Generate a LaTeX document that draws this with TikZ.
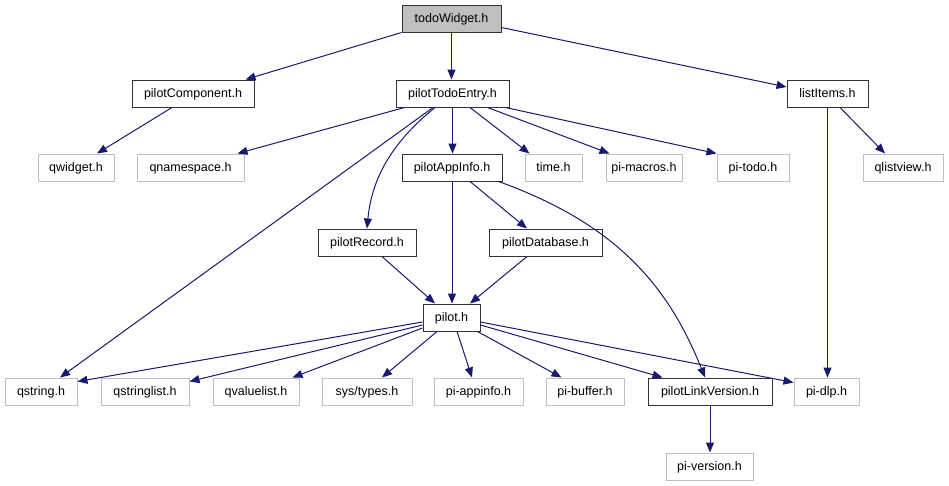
\documentclass[tikz,border=0pt]{standalone}
\usepackage{fontspec}
\setmainfont{Liberation Sans}
\usetikzlibrary{arrows.meta}
\definecolor{edgeblue}{HTML}{191970}
\definecolor{lightframe}{HTML}{BFBFBF}
\definecolor{rootfill}{HTML}{BFBFBF}
\definecolor{darkframe}{HTML}{333333}
\begin{document}
\begin{tikzpicture}[x=1pt,y=-1pt,
  filebox/.style={rectangle, draw=darkframe, line width=1pt, minimum height=27pt, inner sep=0pt, text height=9pt, text depth=1.5pt, font=\fontsize{12.5}{14}\selectfont, text=black},
  extbox/.style={filebox, draw=lightframe},
  rootbox/.style={filebox, fill=rootfill},
  dep/.style={draw=edgeblue, line width=1pt, -{Triangle[length=10pt,width=8pt]}, edgeblue}
]
\useasboundingbox[fill=white] (0,0) rectangle (949,485);

\node[rootbox, minimum width=99pt] (todo) at (451.5,18.5) {todoWidget.h};
\node[filebox, minimum width=122pt] (comp) at (193,93.5) {pilotComponent.h};
\node[filebox, minimum width=113pt] (entry) at (452.5,93.5) {pilotTodoEntry.h};
\node[filebox, minimum width=81pt] (list) at (827.5,93.5) {listItems.h};

\node[extbox, minimum width=76pt] (qwidget) at (76,167.5) {qwidget.h};
\node[extbox, minimum width=107pt] (qnamespace) at (190.5,167.5) {qnamespace.h};
\node[filebox, minimum width=100pt] (appinfo) at (452,167.5) {pilotAppInfo.h};
\node[extbox, minimum width=57pt] (time) at (553.5,167.5) {time.h};
\node[extbox, minimum width=76pt] (macros) at (644,167.5) {pi-macros.h};
\node[extbox, minimum width=72pt] (pitodo) at (753,167.5) {pi-todo.h};
\node[extbox, minimum width=80pt] (qlistview) at (903,167.5) {qlistview.h};

\node[filebox, minimum width=98pt] (record) at (367,242.5) {pilotRecord.h};
\node[filebox, minimum width=113pt] (database) at (545.5,242.5) {pilotDatabase.h};

\node[filebox, minimum width=57pt] (pilot) at (451.5,317.5) {pilot.h};

\node[extbox, minimum width=72pt] (qstring) at (41,391.5) {qstring.h};
\node[extbox, minimum width=88pt] (qstringlist) at (145,391.5) {qstringlist.h};
\node[extbox, minimum width=86pt] (qvaluelist) at (256,391.5) {qvaluelist.h};
\node[extbox, minimum width=90pt] (systypes) at (367,391.5) {sys/types.h};
\node[extbox, minimum width=89pt] (piappinfo) at (478.5,391.5) {pi-appinfo.h};
\node[extbox, minimum width=78pt] (pibuffer) at (585,391.5) {pi-buffer.h};
\node[filebox, minimum width=124pt] (linkver) at (710,391.5) {pilotLinkVersion.h};
\node[extbox, minimum width=65pt] (pidlp) at (826.5,391.5) {pi-dlp.h};

\node[extbox, minimum width=87pt] (piversion) at (709.5,466.5) {pi-version.h};

% edges
\draw[dep] (todo.south west) -- ([xshift=-9pt]comp.north east);
\draw[dep] (todo.south) -- (todo.south |- entry.north);
\draw[dep] ([yshift=-9pt]todo.east) -- ([yshift=6.5pt]list.west);

\draw[dep] ([xshift=-21pt]comp.south) -- ([xshift=21pt]qwidget.north);

\draw[dep] ([xshift=9pt]entry.south west) -- ([xshift=-7pt]qnamespace.north east);
\draw[dep] ([xshift=-19.5pt]entry.south) -- ([xshift=19pt]qstring.north);
\draw[dep] ([xshift=-17.5pt]entry.south) .. controls (395,140) and (372,175) .. (record.north);
\draw[dep] (entry.south) -- (entry.south |- appinfo.north);
\draw[dep] ([xshift=17.5pt]entry.south) -- ([xshift=5pt]time.north west);
\draw[dep] ([xshift=-22pt]entry.south east) -- ([xshift=4pt]macros.north west);
\draw[dep] ([xshift=-4pt]entry.south east) -- (pitodo.north west);

\draw[dep] ([xshift=12.5pt]list.south) -- ([xshift=-18pt]qlistview.north);
\draw[dep] (list.south) -- (list.south |- pidlp.north);

\draw[dep] (appinfo.south) -- (appinfo.south |- pilot.north);
\draw[dep] ([xshift=18pt]appinfo.south) -- ([xshift=-18.5pt]database.north);
\draw[dep] ([xshift=-4pt]appinfo.south east) .. controls (620,225) and (670,290) .. ([xshift=-5pt]linkver.north);

\draw[dep] ([xshift=15pt]record.south) -- ([xshift=-16.5pt]pilot.north);
\draw[dep] ([xshift=-18.5pt]database.south) -- ([xshift=18.5pt]pilot.north);

\draw[dep] ([yshift=-4.5pt]pilot.west) -- ([yshift=-4pt]qstring.north east);
\draw[dep] ([yshift=-7.5pt]pilot.west) -- ([yshift=-4pt]qstringlist.north east);
\draw[dep] ([yshift=-10.5pt]pilot.west) -- ([xshift=-7pt]qvaluelist.north east);
\draw[dep] ([xshift=-14.5pt]pilot.south) -- ([xshift=15pt]systypes.north);
\draw[dep] ([xshift=5.5pt]pilot.south) -- ([xshift=-6.5pt]piappinfo.north);
\draw[dep] ([xshift=-3pt]pilot.south east) -- ([xshift=16pt]pibuffer.north west);
\draw[dep] ([yshift=-7.5pt]pilot.east) -- ([xshift=15pt]linkver.north west);
\draw[dep] ([yshift=-4.5pt]pilot.east) -- ([yshift=-5pt]pidlp.north west);

\draw[dep] (linkver.south) -- (linkver.south |- piversion.north);
\end{tikzpicture}
\end{document}
